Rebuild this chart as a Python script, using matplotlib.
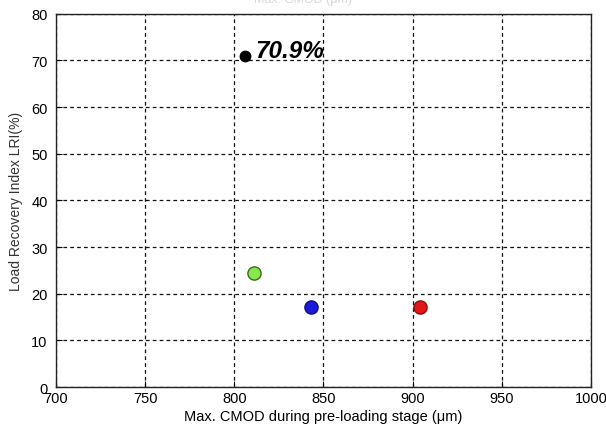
import matplotlib
matplotlib.use("Agg")
import matplotlib.pyplot as plt

plt.rcParams['font.family'] = ['Liberation Sans', 'DejaVu Sans']

# data
cmod = [806, 811, 843, 904]          # max. CMOD during pre-loading (um)
lri = [70.9, 24.5, 17.2, 17.2]       # load recovery index (%)
face_colors = ['black', '#88e850', '#1a1ad8', '#e01818']
edge_colors = ['black', '#3a6a1a', '#10107a', '#8a1010']
sizes = [7.5, 9.5, 9.5, 9.5]
label_text = '70.9%'

x_ticks = [700, 750, 800, 850, 900, 950, 1000]
y_ticks = [0, 10, 20, 30, 40, 50, 60, 70, 80]

fig = plt.figure(figsize=(6.06, 4.27), dpi=100)
ax = fig.add_axes([0.0924, 0.0913, 0.8826, 0.8743])

for x, y, fc, ec, s in zip(cmod, lri, face_colors, edge_colors, sizes):
    ax.plot(x, y, 'o', markersize=s, markerfacecolor=fc, markeredgecolor=ec,
            markeredgewidth=1.0, zorder=3)

ax.text(cmod[0] + 6, lri[0] + 1.2, label_text, fontsize=17.5, fontweight='bold',
        fontstyle='italic', va='center', ha='left')

ax.set_xlim(700, 1000)
ax.set_ylim(0, 80)
ax.set_xticks(x_ticks)
ax.set_yticks(y_ticks)
ax.grid(True, color='#111111', linestyle=(0, (3, 2.5)), linewidth=0.9)
ax.tick_params(direction='in', length=4, labelsize=10.5)
ax.tick_params(axis='y', pad=6)
ax.tick_params(axis='x', pad=3)

for sp in ax.spines.values():
    sp.set_linewidth(1.0)
    sp.set_color('#222222')

ax.set_xlabel('Max. CMOD during pre-loading stage (\u03bcm)', fontsize=10.5, labelpad=3)
ax.set_ylabel('Load Recovery Index LRI(%)', fontsize=10, labelpad=6, color='#333333')

# clipped title remnant at the very top
fig.text(0.5, 1.0, 'Max. CMOD (\u03bcm)', ha='center', va='center',
         fontsize=9, color='#d8d8d8')

fig.savefig('out.png', dpi=100)
